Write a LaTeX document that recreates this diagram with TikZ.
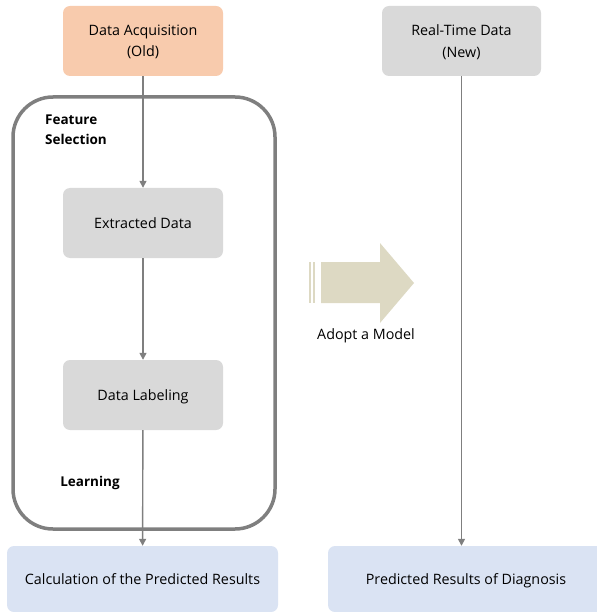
\documentclass[tikz,border=0pt]{standalone}
\usepackage{fontspec}
\setmainfont{Open Sans}
\usepackage{xcolor}
\usetikzlibrary{arrows.meta,positioning}
\definecolor{oldfill}{HTML}{F8CBAD}
\definecolor{greyfill}{HTML}{D9D9D9}
\definecolor{bluefill}{HTML}{DAE3F3}
\definecolor{linegrey}{HTML}{7F7F7F}
\definecolor{arrowfill}{HTML}{DDD9C3}
\tikzset{databox/.style={rounded corners=7pt, minimum width=160pt, minimum height=70pt, align=center, font=\fontsize{14.3}{21.5}\selectfont, inner sep=0pt, text depth=0pt},
resultbox/.style={databox, fill=bluefill, minimum height=66pt},
flow/.style={-{Triangle[length=7pt,width=7pt]}, draw=linegrey, line width=1.4pt},
%bold section labels
tag/.style={font=\fontsize{13.5}{20}\selectfont\bfseries, align=left, inner sep=0pt}}

\begin{document}
\begin{tikzpicture}[x=1pt,y=-1pt]
 \useasboundingbox (0,0) rectangle (596,612);

 %Outer box for feature selection and learning
 \node (selbox) [draw=linegrey, line width=3.5pt, rounded corners=40pt, minimum width=262pt, minimum height=432pt] at (144,313) {};
 \node (seltag) [tag, anchor=north west] at (45,115) {Feature\\Selection};
 \node (learntag) [tag] at (90,483) {Learning};

 %Left column
 \node (oldata) [databox, fill=oldfill] at (143,41) {Data Acquisition\\(Old)};
 \node (extract) [databox, fill=greyfill] at (143,223) {Extracted Data};
 \node (label) [databox, fill=greyfill] at (143,395) {Data Labeling};
 \node (calc) [resultbox, minimum width=271pt] at (142.5,579) {Calculation of the Predicted Results};

 %Right column
 \node (newdata) [databox, fill=greyfill, minimum width=159pt] at (461.5,41) {Real-Time Data\\(New)};
 \node (diag) [resultbox, minimum width=276pt] at (466,579) {Predicted Results of Diagnosis};

 \draw[flow] (oldata) -- (extract);
 \draw[flow] (extract) -- (label);
 \draw[flow] (label) -- (calc);
 \draw[flow] (newdata.south) -- (newdata.south |- diag.north);

 %Adopt arrow
 \fill[arrowfill] (309,262) rectangle (311,303);
 \fill[arrowfill] (313,262) rectangle (315,303);
 \fill[arrowfill] (321,262) -- (380,262) -- (380,243) -- (414,283) -- (380,323) -- (380,303) -- (321,303) -- cycle;
 \node (adopt) [font=\fontsize{14.3}{17}\selectfont] at (366,336) {Adopt a Model};
\end{tikzpicture}
\end{document}
